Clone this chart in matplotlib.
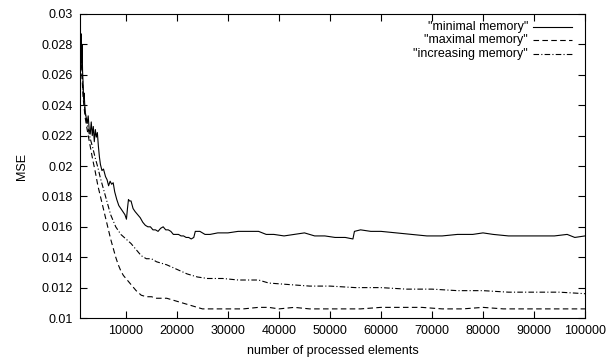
import matplotlib
matplotlib.use("Agg")
import matplotlib.pyplot as plt
from matplotlib.lines import Line2D

plt.rcParams['font.family'] = ['Liberation Sans', 'DejaVu Sans']

# "minimal memory" (solid)
min_x = [1000, 1100, 1200, 1300, 1400, 1500, 1600, 1700, 1800, 2000, 2200, 2400,
         2600, 2800, 3000, 3200, 3400, 3600, 3800, 4000, 4200, 4400, 4600, 4800,
         5000, 5300, 5600, 6000, 6300, 6600, 6900, 7200, 7500, 7800, 8200, 8600,
         9000, 9400, 9800, 10100, 10300, 10500, 10700, 11000, 11400, 11800, 12300,
         12800, 13300, 13800, 14300, 14800, 15300, 15800, 16300, 16800, 17300,
         17800, 18300, 18800, 19300, 19800, 20300, 20800, 21300, 21800, 22300,
         22800, 23300, 23600, 24500, 25500, 26500, 28000, 30000, 32000, 34000,
         36000, 37500, 39000, 41000, 43000, 45000, 47000, 49000, 51000, 53000,
         54500, 54800, 56000, 58000, 60000, 63000, 66000, 69000, 72000, 75000,
         78000, 80000, 82000, 85000, 88000, 91000, 94000, 96500, 98000, 100000]
min_y = [0.0296, 0.0272, 0.0287, 0.0268, 0.0280, 0.0262, 0.0255, 0.0244, 0.0248,
         0.0236, 0.0232, 0.0228, 0.0233, 0.0224, 0.0221, 0.0229, 0.0220, 0.0226,
         0.0216, 0.0224, 0.0219, 0.0222, 0.0213, 0.0206, 0.0201, 0.0197, 0.0198,
         0.0193, 0.0191, 0.0187, 0.0190, 0.0188, 0.0189, 0.0183, 0.0178, 0.0174,
         0.0172, 0.0170, 0.0168, 0.0165, 0.0172, 0.0178, 0.0177, 0.0177, 0.0172,
         0.0170, 0.0168, 0.0166, 0.0163, 0.0161, 0.0160, 0.0160, 0.0158, 0.0158,
         0.0157, 0.0159, 0.0160, 0.0158, 0.0158, 0.0157, 0.0155, 0.0155, 0.0155,
         0.0154, 0.0154, 0.0153, 0.0153, 0.0152, 0.0153, 0.0157, 0.0157, 0.0155,
         0.0155, 0.0156, 0.0156, 0.0157, 0.0157, 0.0157, 0.0155, 0.0155, 0.0154,
         0.0155, 0.0156, 0.0154, 0.0154, 0.0153, 0.0153, 0.0152, 0.0157, 0.0158,
         0.0157, 0.0157, 0.0156, 0.0155, 0.0154, 0.0154, 0.0155, 0.0155, 0.0156,
         0.0155, 0.0154, 0.0154, 0.0154, 0.0154, 0.0155, 0.0153, 0.0154]

# "maximal memory" (dashed)
max_x = [1000, 1200, 1400, 1600, 2000, 2500, 3000, 3500, 4000, 4500, 5000, 5500,
         6000, 6500, 7000, 7500, 8000, 8500, 9000, 9500, 10000, 11000, 12000,
         13000, 14000, 15000, 16000, 17000, 18000, 19000, 20000, 21000, 22000,
         23000, 24000, 25000, 27000, 30000, 33000, 36000, 38000, 40000, 43000,
         46000, 49000, 52000, 56000, 60000, 64000, 68000, 72000, 76000, 80000,
         84000, 88000, 92000, 96000, 100000]
max_y = [0.0290, 0.0272, 0.0258, 0.0245, 0.0232, 0.0222, 0.0213, 0.0204, 0.0196,
         0.0187, 0.0180, 0.0173, 0.0166, 0.0159, 0.0152, 0.0146, 0.0140, 0.0135,
         0.0131, 0.0128, 0.0126, 0.0122, 0.0118, 0.0115, 0.0114, 0.0114, 0.0113,
         0.0113, 0.0113, 0.0112, 0.0111, 0.0110, 0.0109, 0.0108, 0.0107, 0.0106,
         0.0106, 0.0106, 0.0106, 0.0107, 0.0107, 0.0106, 0.0107, 0.0106, 0.0106,
         0.0106, 0.0106, 0.0107, 0.0107, 0.0107, 0.0106, 0.0106, 0.0107, 0.0106,
         0.0106, 0.0106, 0.0106, 0.0106]

# "increasing memory" (dash-dot)
inc_x = [1000, 1200, 1400, 1600, 2000, 2500, 3000, 3500, 4000, 4500, 5000, 6000,
         7000, 8000, 9000, 10000, 11000, 12000, 13000, 14000, 15000, 16000, 17000,
         18000, 20000, 22000, 24000, 26000, 29000, 32000, 36000, 38000, 42000,
         46000, 50000, 55000, 60000, 65000, 70000, 75000, 80000, 85000, 90000,
         95000, 100000]
inc_y = [0.0290, 0.0275, 0.0262, 0.0250, 0.0235, 0.0226, 0.0218, 0.0212, 0.0205,
         0.0199, 0.0192, 0.0180, 0.0168, 0.0160, 0.0155, 0.0152, 0.0149, 0.0145,
         0.0141, 0.0139, 0.0139, 0.0137, 0.0136, 0.0135, 0.0132, 0.0129, 0.0127,
         0.0126, 0.0126, 0.0125, 0.0125, 0.0123, 0.0122, 0.0121, 0.0121, 0.0120,
         0.0120, 0.0119, 0.0119, 0.0118, 0.0118, 0.0117, 0.0117, 0.0117, 0.0116]

x_ticks = [10000, 20000, 30000, 40000, 50000, 60000, 70000, 80000, 90000, 100000]
y_ticks = [0.01, 0.012, 0.014, 0.016, 0.018, 0.02, 0.022, 0.024, 0.026, 0.028, 0.03]

series = [
    ('"minimal memory"', min_x, min_y, '-'),
    ('"maximal memory"', max_x, max_y, (0, (5, 3))),
    ('"increasing memory"', inc_x, inc_y, (0, (5, 2, 1, 2))),
]

fig = plt.figure(figsize=(6.09, 3.58), dpi=100)
ax = fig.add_axes([0.1314, 0.1117, 0.8292, 0.8492])

for label, xs, ys, ls in series:
    ax.plot(xs, ys, color='black', linestyle=ls, linewidth=0.8)

ax.set_xlim(1000, 100000)
ax.set_ylim(0.01, 0.03)
ax.set_xticks(x_ticks)
ax.set_xticklabels([str(v) for v in x_ticks])
ax.set_yticks(y_ticks)
ax.set_yticklabels(['%g' % v for v in y_ticks])
ax.tick_params(direction='in', top=True, right=True, length=5, width=0.8,
               labelsize=9, pad=5)
for sp in ax.spines.values():
    sp.set_linewidth(0.8)

ax.set_xlabel('number of processed elements', fontsize=9, labelpad=6)
ax.set_ylabel('MSE', fontsize=9, labelpad=10)

# gnuplot-style key: right-justified text followed by line sample
for i, (label, xs, ys, ls) in enumerate(series):
    yk = 0.957 - i * 0.044
    ax.text(0.887, yk, label, transform=ax.transAxes, ha='right', va='center',
            fontsize=9)
    ax.add_line(Line2D([0.897, 0.974], [yk, yk], transform=ax.transAxes,
                       color='black', linestyle=ls, linewidth=0.8))

fig.savefig('out.png', dpi=100)
